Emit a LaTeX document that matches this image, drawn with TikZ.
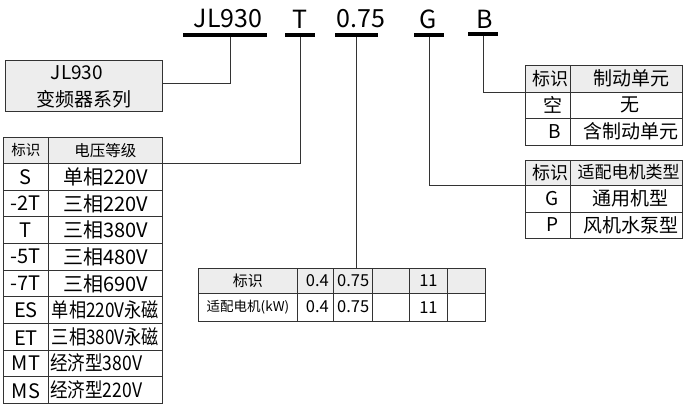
\documentclass[tikz,border=0pt]{standalone}
\usepackage{fontspec}
\usepackage{graphicx}
\newfontfamily\cjk{Noto Sans CJK SC}
\begin{document}
\begin{tikzpicture}[x=1pt,y=-1pt,
  cellbox/.style={draw=black!80, line width=0.9pt, inner sep=0, anchor=north west},
  hdr/.style={cellbox, fill=black!7},
  txt/.style={inner sep=0, font=\cjk\fontsize{#1}{#1}\selectfont},
  bar/.style={fill=black, draw=none, inner sep=0, minimum height=4.5pt},
  wire/.style={draw=black!80, line width=0.9pt}]
\useasboundingbox (0,0) rectangle (685,406);

% top code
\node[txt=25] (tjl) at (228,19) {JL930};
\node[txt=25] (tt) at (300,19) {T};
\node[txt=25] (tp) at (361,19) {0.75};
\node[txt=25] (tg) at (428,19) {G};
\node[txt=25] (tb) at (485,19) {B};
\node[bar, minimum width=84pt] (bar1) at (225,35) {};
\node[bar, minimum width=30pt] (bar2) at (300,35) {};
\node[bar, minimum width=43pt] (bar3) at (356.5,35) {};
\node[bar, minimum width=30pt] (bar4) at (429,35) {};
\node[bar, minimum width=30pt] (bar5) at (483,34) {};

% series box
\node[hdr, minimum width=157pt, minimum height=51pt] (box) at (5,60) {};
\node[txt=19] (boxa) at (77,72.5) {JL930};
\node[txt=19] (boxb) at (84,99) {变频器系列};

% left table: voltage
\node[hdr, minimum width=45pt, minimum height=26pt] (lh1) at (3,137) {};
\node[hdr, minimum width=114pt, minimum height=26pt] (lh2) at (48,137) {};
\node[txt=14.5] (lht1) at (lh1.center) {标识};
\node[txt=15.5] (lht2) at (lh2.center) {电压等级};
\foreach \i in {1,...,9} {
  \node[cellbox, minimum width=45pt, minimum height=26.667pt] (lk\i) at (3,{163+(\i-1)*26.667}) {};
  \node[cellbox, minimum width=114pt, minimum height=26.667pt] (lv\i) at (48,{163+(\i-1)*26.667}) {};
}
\node[txt=20] (lks1) at (lk1.center) {S};
\node[txt=20] (lks2) at (lk2.center) {-2T};
\node[txt=20] (lks3) at (lk3.center) {T};
\node[txt=20] (lks4) at (lk4.center) {-5T};
\node[txt=20] (lks5) at (lk5.center) {-7T};
\node[txt=20] (lks6) at (lk6.center) {ES};
\node[txt=20] (lks7) at ([yshift=-1.5pt]lk7.center) {ET};
\node[txt=20] (lks8) at (lk8.center) {MT};
\node[txt=20] (lks9) at ([yshift=-1pt]lk9.center) {MS};
\node[txt=20] (lvs1) at (lv1.center) {单相220V};
\node[txt=20] (lvs2) at (lv2.center) {三相220V};
\node[txt=20] (lvs3) at (lv3.center) {三相380V};
\node[txt=20] (lvs4) at (lv4.center) {三相480V};
\node[txt=20] (lvs5) at (lv5.center) {三相690V};
\node[txt=20] (lvs6) at (lv6.center) {\resizebox{107pt}{\height}{单相220V永磁}};
\node[txt=20] (lvs7) at (lv7.center) {\resizebox{107pt}{\height}{三相380V永磁}};
\node[txt=20, anchor=west] (lvs8) at (50,363) {\resizebox{92pt}{\height}{经济型380V}};
\node[txt=20, anchor=west] (lvs9) at (50,389.7) {\resizebox{92pt}{\height}{经济型220V}};

% middle table: power
\node[hdr, minimum width=99pt, minimum height=25pt] (mh1) at (198,268) {};
\node[hdr, minimum width=36pt, minimum height=25pt] (mh2) at (297,268) {};
\node[hdr, minimum width=39pt, minimum height=25pt] (mh3) at (333,268) {};
\node[hdr, minimum width=37pt, minimum height=25pt] (mh4) at (372,268) {};
\node[hdr, minimum width=38pt, minimum height=25pt] (mh5) at (409,268) {};
\node[hdr, minimum width=38pt, minimum height=25pt] (mh6) at (447,268) {};
\node[cellbox, minimum width=99pt, minimum height=28pt] (mr1) at (198,293) {};
\node[cellbox, minimum width=36pt, minimum height=28pt] (mr2) at (297,293) {};
\node[cellbox, minimum width=39pt, minimum height=28pt] (mr3) at (333,293) {};
\node[cellbox, minimum width=37pt, minimum height=28pt] (mr4) at (372,293) {};
\node[cellbox, minimum width=38pt, minimum height=28pt] (mr5) at (409,293) {};
\node[cellbox, minimum width=38pt, minimum height=28pt] (mr6) at (447,293) {};
\node[txt=15] (mht1) at (mh1.center) {标识};
\node[txt=16.5, anchor=east] (mht2) at (329,280.5) {0.4};
\node[txt=16.5, anchor=west] (mht3) at (337,280.5) {0.75};
\node[txt=16.5] (mht5) at (mh5.center) {11};
\node[txt=13.5] (mrt1) at (mr1.center) {适配电机(kW)};
\node[txt=16.5, anchor=east] (mrt2) at (329,307) {0.4};
\node[txt=16.5, anchor=west] (mrt3) at (337,307) {0.75};
\node[txt=16.5] (mrt5) at (mr5.center) {11};

% right table 1: brake
\node[hdr, minimum width=45pt, minimum height=27pt] (rb1) at (525,65) {};
\node[hdr, minimum width=112pt, minimum height=27pt] (rb2) at (570,65) {};
\node[cellbox, minimum width=45pt, minimum height=26pt] (rb3) at (525,92) {};
\node[cellbox, minimum width=112pt, minimum height=26pt] (rb4) at (570,92) {};
\node[cellbox, minimum width=45pt, minimum height=27pt] (rb5) at (525,118) {};
\node[cellbox, minimum width=112pt, minimum height=27pt] (rb6) at (570,118) {};
\node[txt=18] (rbt1) at (550,78.5) {标识};
\node[txt=19] (rbt2) at (631.5,78.5) {制动单元};
\node[txt=19] (rbt3) at (553,105) {空};
\node[txt=19] (rbt4) at (630,105) {无};
\node[txt=19] (rbt5) at (555,131.5) {B};
\node[txt=19] (rbt6) at (630.5,131.5) {含制动单元};

% right table 2: motor type
\node[hdr, minimum width=45pt, minimum height=25pt] (rg1) at (525,160) {};
\node[hdr, minimum width=112pt, minimum height=25pt] (rg2) at (570,160) {};
\node[cellbox, minimum width=45pt, minimum height=27pt] (rg3) at (525,185) {};
\node[cellbox, minimum width=112pt, minimum height=27pt] (rg4) at (570,185) {};
\node[cellbox, minimum width=45pt, minimum height=26pt] (rg5) at (525,212) {};
\node[cellbox, minimum width=112pt, minimum height=26pt] (rg6) at (570,212) {};
\node[txt=18] (rgt1) at (550,172.5) {标识};
\node[txt=17] (rgt2) at (628.5,172.5) {适配电机类型};
\node[txt=19] (rgt3) at (552,198.5) {G};
\node[txt=19] (rgt4) at (630,198.5) {通用机型};
\node[txt=19] (rgt5) at (553,225) {P};
\node[txt=19] (rgt6) at (631,225) {风机水泵型};

% connectors
\draw[wire] ([xshift=5pt]bar1.south) |- ([yshift=2.5pt]box.east);
\draw[wire] (bar2.south) |- (lh2.south east);
\draw[wire] (bar3.south) -- (bar3.south |- mh3.north);
\draw[wire] (bar4.south) |- (rg1.south west);
\draw[wire] (bar5.south) |- (rb1.south west);
\end{tikzpicture}
\end{document}
